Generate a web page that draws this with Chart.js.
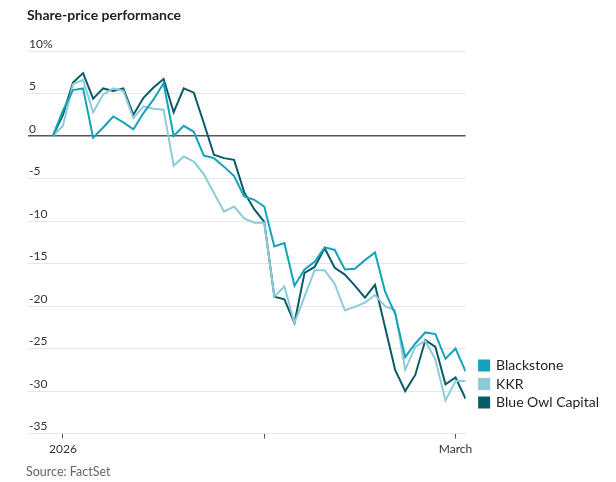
<!DOCTYPE html>
<html><head><meta charset="utf-8">
<script src="https://cdn.jsdelivr.net/npm/chart.js@4.4.1/dist/chart.umd.min.js"></script>
<style>
html,body{margin:0;padding:0;background:#fff;}
#wrap{position:relative;width:616px;height:482px;}
#title{position:absolute;left:27px;top:6px;font:bold 14px Lato, sans-serif;color:#222;}
#source{position:absolute;left:26px;top:464px;font:12.5px Lato, sans-serif;color:#666;}
canvas{position:absolute;left:0;top:0;}
</style></head><body>
<div id="wrap"><canvas id="c" width="616" height="482"></canvas>
<div id="title">Share-price performance</div>
<div id="source">Source: FactSet</div></div>
<script>
const dates = ['2025-12-31','2026-01-02','2026-01-05','2026-01-06','2026-01-07','2026-01-08','2026-01-09','2026-01-12','2026-01-13','2026-01-14','2026-01-15','2026-01-16','2026-01-20','2026-01-21','2026-01-22','2026-01-23','2026-01-26','2026-01-27','2026-01-28','2026-01-29','2026-01-30','2026-02-02','2026-02-03','2026-02-04','2026-02-05','2026-02-06','2026-02-09','2026-02-10','2026-02-11','2026-02-12','2026-02-13','2026-02-17','2026-02-18','2026-02-19','2026-02-20','2026-02-23','2026-02-24','2026-02-25','2026-02-26','2026-02-27','2026-03-02','2026-03-03'];
const blackstone = [0,3.0,5.4,5.6,-0.2,1.0,2.3,1.6,0.8,2.7,4.3,6.2,0.0,1.2,0.5,-2.3,-2.6,-3.6,-4.7,-7.1,-7.5,-8.3,-13.0,-12.6,-17.6,-15.7,-14.8,-13.1,-13.4,-15.7,-15.6,-14.6,-13.7,-18.3,-20.9,-26.0,-24.4,-23.1,-23.3,-26.2,-25.0,-27.7];
const kkr = [0,1.2,6.1,6.6,2.8,4.9,5.6,5.3,2.1,3.5,3.2,3.1,-3.5,-2.4,-3.0,-4.5,-6.7,-8.9,-8.3,-9.7,-10.2,-10.2,-18.9,-17.7,-22.0,-18.9,-15.8,-15.8,-17.4,-20.5,-20.1,-19.6,-18.7,-20.0,-20.5,-27.5,-24.8,-24.1,-26.3,-31.1,-28.8,-28.8];
const blueOwl = [0,2.5,6.3,7.4,4.4,5.6,5.3,5.6,2.5,4.5,5.7,6.7,2.8,5.6,5.1,1.5,-2.2,-2.6,-2.8,-6.6,-8.6,-10.1,-18.9,-19.2,-22.0,-16.1,-15.4,-13.2,-15.5,-16.3,-17.6,-19.0,-17.5,-22.5,-27.5,-30.0,-28.1,-24.0,-24.8,-29.2,-28.4,-30.9];
const yTicks = [10,5,0,-5,-10,-15,-20,-25,-30,-35];
const xTickIdx = [1,21,40];
const xTickText = ['2026','','March'];

const LEG_DX = 9, LEG_DY = 45;
const mk = arr => arr.map((v,i)=>({x:i,y:v}));
const ds = (label, arr, col) => ({label, data: mk(arr), borderColor: col, backgroundColor: col, borderWidth: 2, pointRadius: 0, tension: 0, borderJoinStyle: 'miter'});

new Chart(document.getElementById('c'), {
  type: 'line',
  data: { datasets: [
    ds('Blackstone', blackstone, '#13a3ba'),
    ds('KKR', kkr, '#8dcbd9'),
    ds('Blue Owl Capital', blueOwl, '#0b5c68')
  ]},
  options: {
    responsive: false, animation: false,
    layout: { padding: { top: 51, left: 26, right: 16, bottom: 23 } },
    plugins: {
      legend: { position: 'right', align: 'end',
        labels: { boxWidth: 10, boxHeight: 10, padding: 4.5, color: '#222', font: { family: 'Lato', size: 14 } } },
      tooltip: { enabled: false }
    },
    scales: {
      x: { type: 'linear', min: -2.47, max: 41,
        afterBuildTicks: ax => { ax.ticks = xTickIdx.map(v => ({ value: v })); },
        ticks: { callback: (v, i) => xTickText[i], autoSkip: false, maxRotation: 0, color: '#333', font: { family: 'Lato', size: 12 }, padding: 3 },
        grid: { drawOnChartArea: false, drawTicks: true, tickLength: 5, color: '#555' },
        border: { display: false } },
      y: { min: -35, max: 10,
        afterBuildTicks: ax => { ax.ticks = yTicks.map(v => ({ value: v })); },
        ticks: { mirror: true, labelOffset: -7, padding: 1, callback: v => v === 10 ? '10%' : String(v), color: '#333', font: { family: 'Lato', size: 12 } },
        grid: { drawTicks: false, color: c => (c.tick && c.tick.value === 0) ? '#555' : '#e6e6e6', lineWidth: c => (c.tick && c.tick.value === 0) ? 1.5 : 1 },
        border: { display: false } }
    }
  },
  plugins: [{ id: 'legendShift', afterLayout(chart) {
    const l = chart.legend; if (!l) return;
    l.left += LEG_DX; l.right += LEG_DX; l.top -= LEG_DY; l.bottom -= LEG_DY;
  }}]
});
</script>
</body></html>
